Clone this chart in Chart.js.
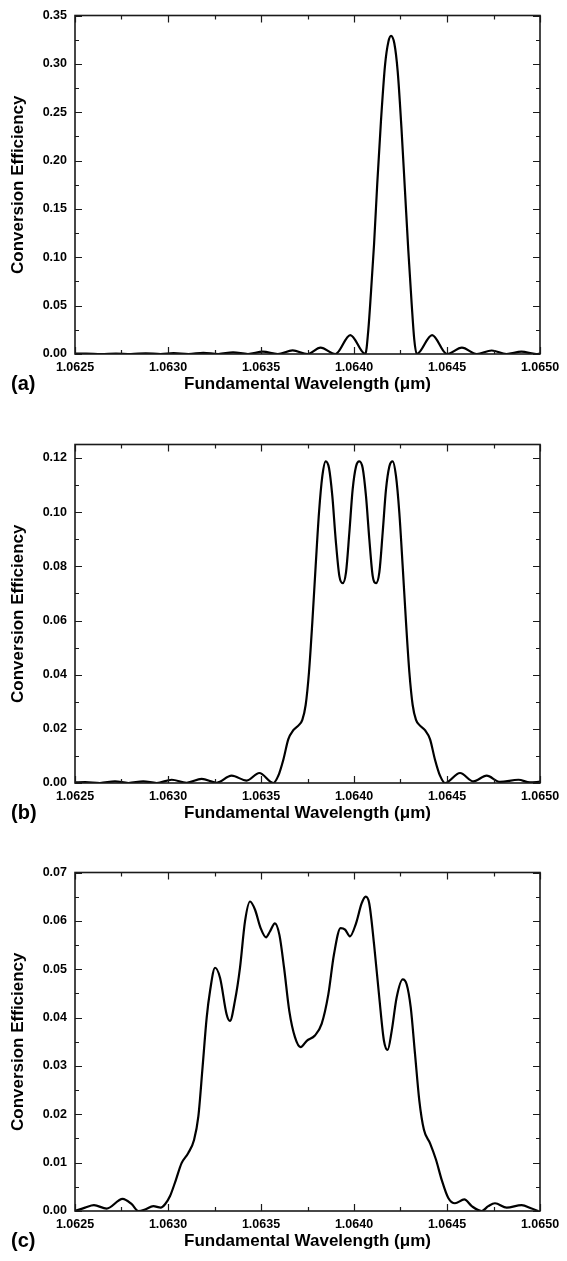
<!DOCTYPE html>
<html>
<head>
<meta charset="utf-8">
<script src="https://cdn.jsdelivr.net/npm/chart.js@4.4.1/dist/chart.umd.min.js"></script>
<style>
  html, body { margin: 0; padding: 0; background: #fff; }
  .panel { position: absolute; left: 0; width: 567px; }
</style>
</head>
<body>
<div class="panel" style="top:0px;height:429px"><canvas id="chart-a" width="567" height="429"></canvas></div>
<div class="panel" style="top:429px;height:428px"><canvas id="chart-b" width="567" height="428"></canvas></div>
<div class="panel" style="top:857px;height:404px"><canvas id="chart-c" width="567" height="404"></canvas></div>
<script>
// x axis range (um) and tick step
const xRange = [1.0625, 1.0650];
const xStep = 0.0005;

// (a) single grating
const waveA = [1.06250, 1.06256, 1.06264, 1.06272, 1.06280, 1.06288, 1.06296, 1.06303, 1.06311, 1.06319,
  1.06327, 1.06335, 1.06343, 1.06351, 1.06359, 1.06367, 1.06375, 1.06382, 1.06390, 1.06398,
  1.064061, 1.064077, 1.064091, 1.064108, 1.064125, 1.064145, 1.064167, 1.064185, 1.064199, 1.064217,
  1.064235, 1.064255, 1.064274, 1.064292, 1.064310, 1.064324, 1.064337,
  1.06442, 1.06450, 1.06458, 1.06466, 1.06474, 1.06482, 1.06490, 1.06498, 1.06500];
const effA = [0.0003, 0.0004, 0, 0.0005, 0, 0.0007, 0, 0.0009, 0, 0.0012,
  0, 0.0017, 0, 0.0024, 0, 0.0038, 0, 0.0066, 0, 0.0196,
  0, 0.025, 0.063, 0.114, 0.176, 0.241, 0.299, 0.323, 0.329, 0.321,
  0.292, 0.234, 0.169, 0.107, 0.052, 0.015, 0,
  0.0196, 0, 0.0066, 0, 0.0036, 0, 0.0024, 0, 0.0004];

// (b) three peaks
const waveB = [1.06250, 1.062554, 1.062634, 1.062715, 1.062787, 1.062867, 1.062939, 1.063020, 1.063100, 1.063181,
  1.063262, 1.063342, 1.063423, 1.063491,
  1.0635663, 1.0635932, 1.0636201, 1.0636470, 1.0636738, 1.0637007, 1.0637222, 1.0637401, 1.0637581, 1.0637760,
  1.0637939, 1.0638118, 1.0638297, 1.0638477, 1.0638656, 1.0638835, 1.0639014, 1.0639211, 1.0639391, 1.0639570,
  1.0639749, 1.0639928, 1.0640108, 1.0640287, 1.0640466, 1.0640645, 1.0640824, 1.0641004, 1.0641183, 1.0641362,
  1.0641541, 1.0641720, 1.0641900, 1.0642079, 1.0642258, 1.0642437, 1.0642616, 1.0642796, 1.0642975, 1.0643154,
  1.0643333, 1.0643548, 1.0643817, 1.0644086, 1.0644355, 1.0644624, 1.0644892,
  1.064570, 1.064642, 1.064713, 1.064785, 1.064884, 1.064946, 1.06500];
const effB = [0.0002, 0.0003, 0, 0.0006, 0, 0.0006, 0, 0.0012, 0.0001, 0.0015,
  0.0001, 0.0027, 0.0009, 0.0037,
  0, 0.0027, 0.0086, 0.0162, 0.0195, 0.0212, 0.0233, 0.0288, 0.0410, 0.0594,
  0.0802, 0.0998, 0.1133, 0.1188, 0.1163, 0.1059, 0.0900, 0.0765, 0.0738, 0.0778,
  0.0924, 0.1084, 0.1169, 0.1188, 0.1163, 0.1059, 0.0900, 0.0765, 0.0738, 0.0778,
  0.0924, 0.1084, 0.1169, 0.1188, 0.1133, 0.0998, 0.0802, 0.0594, 0.0410, 0.0288,
  0.0233, 0.0212, 0.0195, 0.0162, 0.0086, 0.0027, 0,
  0.0037, 0.0006, 0.0027, 0.0004, 0.0012, 0.0002, 0.0005];

// (c) broad band
const waveC = [1.062500, 1.062554, 1.062602, 1.062670, 1.062756, 1.062805, 1.062841, 1.062876, 1.062921, 1.062961,
  1.062984, 1.063011, 1.063043, 1.063073, 1.063109, 1.063140, 1.063163, 1.063186, 1.063208, 1.063226,
  1.063253, 1.063280, 1.063315, 1.063333, 1.063360, 1.063387, 1.063414, 1.063441, 1.063468, 1.063498,
  1.063527, 1.063548, 1.063575, 1.063599, 1.063624, 1.063652, 1.063683, 1.063713, 1.063746, 1.063790,
  1.063826, 1.063862, 1.063892, 1.063928, 1.063952, 1.063978, 1.064011, 1.064041, 1.064063, 1.064082,
  1.064108, 1.064136, 1.064161, 1.064181, 1.064203, 1.064229, 1.064262, 1.064283, 1.064305, 1.064328,
  1.064351, 1.064376, 1.064409, 1.064441, 1.064471, 1.064507, 1.064543, 1.064593, 1.064633, 1.064686,
  1.064722, 1.064758, 1.064821, 1.064901, 1.064955, 1.064991];
const effC = [0, 0.0007, 0.0012, 0.0005, 0.0025, 0.0014, 0, 0.0003, 0.0010, 0.0007,
  0.0014, 0.0031, 0.0065, 0.0099, 0.0120, 0.0147, 0.0195, 0.0298, 0.0400, 0.0455,
  0.0503, 0.0482, 0.0407, 0.0393, 0.0435, 0.0503, 0.0599, 0.0640, 0.0623, 0.0585,
  0.0566, 0.0578, 0.0595, 0.0571, 0.0503, 0.0414, 0.0359, 0.0339, 0.0352, 0.0363,
  0.0387, 0.0448, 0.0530, 0.0585, 0.0582, 0.0568, 0.0595, 0.0636, 0.0650, 0.0636,
  0.0551, 0.0441, 0.0352, 0.0333, 0.0373, 0.0441, 0.0479, 0.0469, 0.0421, 0.0325,
  0.0229, 0.0168, 0.0140, 0.0106, 0.0065, 0.0027, 0.0016, 0.0024, 0.0010, 0,
  0.0010, 0.0016, 0.0007, 0.0012, 0.0005, 0];

const FONT = "'Liberation Sans', Arial, sans-serif";
Chart.defaults.font.family = FONT;
Chart.defaults.color = '#000';

// inward major/minor ticks on all four sides plus the frame and panel tag
const frameTicks = {
  id: 'frameTicks',
  afterDatasetsDraw(chart, args, opts) {
    const { ctx, chartArea: a } = chart;
    const xs = chart.scales.x, ys = chart.scales.y;
    const mids = (vals) => {
      const out = [];
      for (let i = 0; i < vals.length - 1; i++) out.push((vals[i] + vals[i + 1]) / 2);
      return out;
    };
    ctx.save();
    ctx.strokeStyle = '#1a1a1a';
    ctx.lineWidth = 1.2;
    const xv = xs.ticks.map(t => t.value);
    const yv = ys.ticks.map(t => t.value);
    const drawX = (vals, len) => vals.forEach(v => {
      const p = Math.round(xs.getPixelForValue(v)) + 0.5;
      ctx.beginPath();
      ctx.moveTo(p, a.bottom); ctx.lineTo(p, a.bottom - len);
      ctx.moveTo(p, a.top); ctx.lineTo(p, a.top + len);
      ctx.stroke();
    });
    const drawY = (vals, len) => vals.forEach(v => {
      const p = Math.round(ys.getPixelForValue(v)) + 0.5;
      ctx.beginPath();
      ctx.moveTo(a.left, p); ctx.lineTo(a.left + len, p);
      ctx.moveTo(a.right, p); ctx.lineTo(a.right - len, p);
      ctx.stroke();
    });
    drawX(xv, 7); drawX(mids(xv), 4);
    drawY(yv, 7); drawY(mids(yv), 4);
    ctx.lineWidth = 1.6;
    ctx.strokeRect(a.left, a.top, a.right - a.left, a.bottom - a.top);
    ctx.fillStyle = '#000';
    ctx.font = 'bold 20px ' + FONT;
    ctx.textBaseline = 'middle';
    ctx.fillText(opts.tag, 11, a.bottom + 30);
    ctx.restore();
  }
};

function makeChart(id, wave, eff, yMax, yStep, tag, bottomPad) {
  return new Chart(document.getElementById(id), {
    type: 'line',
    data: {
      datasets: [{
        data: wave.map((w, i) => ({ x: w, y: eff[i] })),
        borderColor: '#000',
        borderWidth: 2.2,
        pointRadius: 0,
        cubicInterpolationMode: 'monotone',
        fill: false
      }]
    },
    options: {
      responsive: false,
      animation: false,
      layout: { padding: { top: 13, right: 27, left: 0, bottom: bottomPad } },
      plugins: { legend: { display: false }, tooltip: { enabled: false }, frameTicks: { tag: tag } },
      scales: {
        x: {
          type: 'linear', min: xRange[0], max: xRange[1],
          grid: { display: false, drawTicks: false }, border: { display: false },
          ticks: { stepSize: xStep, padding: 6, maxRotation: 0, autoSkip: false,
            font: { size: 12.5, weight: 'bold' }, callback: v => v.toFixed(4) },
          title: { display: true, text: 'Fundamental Wavelength (\u03bcm)',
            font: { size: 17, weight: 'bold' }, padding: { top: 0, bottom: 0 } },
          afterFit: s => { s.height = 41; }
        },
        y: {
          min: 0, max: yMax,
          grid: { display: false, drawTicks: false }, border: { display: false },
          ticks: { stepSize: yStep, padding: 8, includeBounds: false,
            font: { size: 12.5, weight: 'bold' }, callback: v => v.toFixed(2) },
          title: { display: true, text: 'Conversion Efficiency',
            font: { size: 17, weight: 'bold' }, padding: { top: 8, bottom: 0 } },
          afterFit: s => { s.width = 75; }
        }
      }
    },
    plugins: [frameTicks]
  });
}

makeChart('chart-a', waveA, effA, 0.35, 0.05, '(a)', 34);
makeChart('chart-b', waveB, effB, 0.125, 0.02, '(b)', 33);
makeChart('chart-c', waveC, effC, 0.07, 0.01, '(c)', 9);
</script>
</body>
</html>
